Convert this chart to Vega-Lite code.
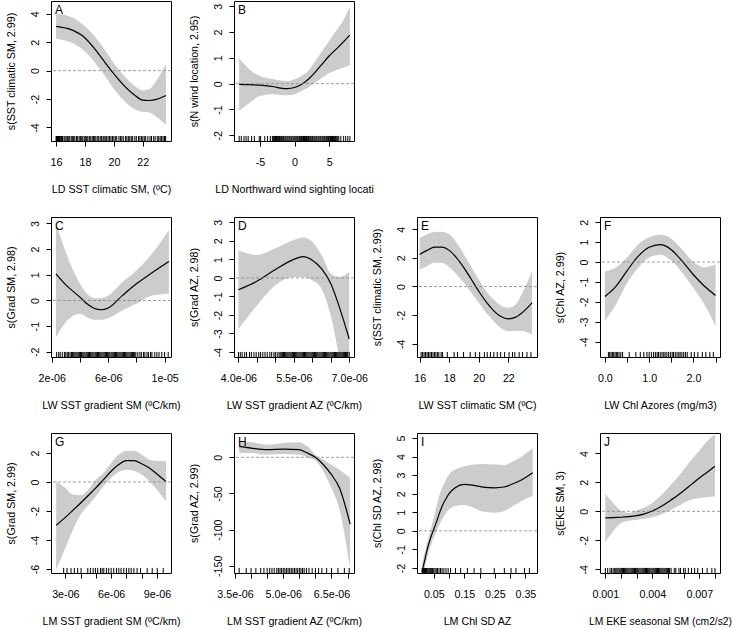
{
"$schema": "https://vega.github.io/schema/vega-lite/v6.json",
"padding": {"left": 4, "top": 0, "right": 0, "bottom": 0},
"background": "white",
"config": {
  "view": {"stroke": "black", "strokeWidth": 1},
  "font": "Liberation Sans",
  "axis": {"domain": false, "grid": false, "tickColor": "black", "tickSize": 5, "tickWidth": 1, "labelFont": "Liberation Sans", "labelFontSize": 10.7, "labelColor": "black", "titleFont": "Liberation Sans", "titleFontSize": 10.7, "titleFontWeight": "normal", "titleColor": "black", "labelOverlap": false, "labelFlush": false, "tickCount": 100},
  "axisY": {"labelAngle": 270, "labelAlign": "center", "labelBaseline": "bottom", "labelPadding": 5.5, "titlePadding": 13.5},
  "axisX": {"labelPadding": 11.5, "titlePadding": 17}
},
"datasets": {
  "A": [{"x":16,"fit":3.12,"lo":2.27,"hi":3.98},{"x":17.0,"fit":2.9,"lo":2.0,"hi":3.8},{"x":17.95,"fit":2.35,"lo":1.4,"hi":3.15},{"x":18.85,"fit":1.3,"lo":0.35,"hi":2.2},{"x":19.55,"fit":0.35,"lo":-0.6,"hi":1.2},{"x":20.0,"fit":-0.23,"lo":-1.3,"hi":0.5},{"x":20.7,"fit":-1.05,"lo":-2.1,"hi":-0.35},{"x":21.4,"fit":-1.7,"lo":-2.7,"hi":-1.05},{"x":22.0,"fit":-2.08,"lo":-2.9,"hi":-1.4},{"x":22.45,"fit":-2.1,"lo":-2.95,"hi":-1.3},{"x":23.0,"fit":-2.0,"lo":-3.3,"hi":-0.6},{"x":23.6,"fit":-1.75,"lo":-3.8,"hi":0.45}],
  "B": [{"x":-8,"fit":-0.03,"lo":-1.06,"hi":0.97},{"x":-6.5,"fit":-0.04,"lo":-0.74,"hi":0.55},{"x":-5,"fit":-0.06,"lo":-0.48,"hi":0.3},{"x":-3,"fit":-0.12,"lo":-0.41,"hi":0.17},{"x":-2,"fit":-0.17,"lo":-0.44,"hi":0.12},{"x":-1,"fit":-0.19,"lo":-0.45,"hi":0.1},{"x":0,"fit":-0.15,"lo":-0.41,"hi":0.17},{"x":1,"fit":-0.03,"lo":-0.28,"hi":0.3},{"x":2,"fit":0.17,"lo":-0.15,"hi":0.5},{"x":3,"fit":0.45,"lo":0.04,"hi":0.88},{"x":4,"fit":0.76,"lo":0.23,"hi":1.26},{"x":5,"fit":1.07,"lo":0.4,"hi":1.65},{"x":6,"fit":1.33,"lo":0.52,"hi":2.04},{"x":7,"fit":1.6,"lo":0.62,"hi":2.43},{"x":8,"fit":1.88,"lo":0.71,"hi":3.0}],
  "C": [{"x":2.3e-6,"fit":1.04,"lo":-1.43,"hi":3.05},{"x":3e-6,"fit":0.61,"lo":-0.84,"hi":1.88},{"x":4e-6,"fit":0.13,"lo":-0.52,"hi":0.65},{"x":4.5e-6,"fit":-0.13,"lo":-0.65,"hi":0.26},{"x":5e-6,"fit":-0.3,"lo":-0.75,"hi":0.09},{"x":5.5e-6,"fit":-0.36,"lo":-0.75,"hi":0.09},{"x":6e-6,"fit":-0.29,"lo":-0.69,"hi":0.19},{"x":7e-6,"fit":0.19,"lo":-0.39,"hi":0.71},{"x":8e-6,"fit":0.65,"lo":-0.13,"hi":1.17},{"x":9e-6,"fit":1.04,"lo":0.17,"hi":1.75},{"x":1.03e-5,"fit":1.52,"lo":0.26,"hi":2.73}],
  "D": [{"x":4.0e-6,"fit":-0.64,"lo":-2.76,"hi":1.5},{"x":4.5e-6,"fit":-0.18,"lo":-1.49,"hi":1.24},{"x":5.0e-6,"fit":0.45,"lo":-0.4,"hi":1.6},{"x":5.5e-6,"fit":1.0,"lo":0.05,"hi":2.05},{"x":5.75e-6,"fit":1.15,"lo":0.05,"hi":2.18},{"x":6.0e-6,"fit":0.96,"lo":-0.13,"hi":1.96},{"x":6.25e-6,"fit":0.5,"lo":-0.58,"hi":1.24},{"x":6.5e-6,"fit":-0.3,"lo":-2.04,"hi":0.24},{"x":6.75e-6,"fit":-1.67,"lo":-4.5,"hi":0.05},{"x":7.0e-6,"fit":-3.3,"lo":-7.5,"hi":0.33}],
  "E": [{"x":16,"fit":2.24,"lo":1.19,"hi":3.36},{"x":16.5,"fit":2.52,"lo":1.42,"hi":3.64},{"x":17,"fit":2.75,"lo":1.65,"hi":3.8},{"x":17.5,"fit":2.75,"lo":1.65,"hi":3.82},{"x":18,"fit":2.52,"lo":1.35,"hi":3.64},{"x":18.5,"fit":2.0,"lo":0.84,"hi":3.05},{"x":19,"fit":1.3,"lo":0.26,"hi":2.24},{"x":19.5,"fit":0.49,"lo":-0.44,"hi":1.35},{"x":20,"fit":-0.33,"lo":-1.14,"hi":0.49},{"x":20.5,"fit":-1.07,"lo":-1.84,"hi":-0.33},{"x":21,"fit":-1.68,"lo":-2.42,"hi":-0.91},{"x":21.5,"fit":-2.1,"lo":-2.89,"hi":-1.33},{"x":22,"fit":-2.26,"lo":-3.12,"hi":-1.49},{"x":22.5,"fit":-2.14,"lo":-3.08,"hi":-1.26},{"x":23,"fit":-1.77,"lo":-3.12,"hi":-0.33},{"x":23.6,"fit":-1.14,"lo":-3.36,"hi":1.07}],
  "F": [{"x":0,"fit":-1.73,"lo":-2.95,"hi":-0.47},{"x":0.25,"fit":-1.22,"lo":-2.14,"hi":-0.27},{"x":0.5,"fit":-0.44,"lo":-1.06,"hi":0.23},{"x":0.75,"fit":0.28,"lo":-0.3,"hi":0.87},{"x":1.0,"fit":0.74,"lo":0.23,"hi":1.24},{"x":1.25,"fit":0.87,"lo":0.37,"hi":1.37},{"x":1.5,"fit":0.62,"lo":0.07,"hi":1.17},{"x":1.75,"fit":0.03,"lo":-0.55,"hi":0.62},{"x":2.0,"fit":-0.64,"lo":-1.31,"hi":0.0},{"x":2.25,"fit":-1.22,"lo":-2.14,"hi":-0.27},{"x":2.5,"fit":-1.68,"lo":-3.23,"hi":-0.13}],
  "G": [{"x":2.4e-6,"fit":-2.99,"lo":-6.05,"hi":0.05},{"x":3e-6,"fit":-2.44,"lo":-4.55,"hi":-0.41},{"x":3.5e-6,"fit":-1.95,"lo":-3.3,"hi":-0.87},{"x":4e-6,"fit":-1.45,"lo":-2.25,"hi":-0.92},{"x":4.5e-6,"fit":-0.93,"lo":-1.61,"hi":-0.53},{"x":5e-6,"fit":-0.41,"lo":-0.99,"hi":0.16},{"x":5.5e-6,"fit":0.16,"lo":-0.3,"hi":0.62},{"x":6e-6,"fit":0.74,"lo":0.28,"hi":1.31},{"x":6.5e-6,"fit":1.2,"lo":0.69,"hi":1.89},{"x":7e-6,"fit":1.47,"lo":0.85,"hi":2.16},{"x":7.5e-6,"fit":1.47,"lo":0.78,"hi":2.16},{"x":8e-6,"fit":1.26,"lo":0.51,"hi":1.89},{"x":8.5e-6,"fit":0.97,"lo":0.05,"hi":1.54},{"x":9e-6,"fit":0.55,"lo":-0.53,"hi":1.47},{"x":9.6e-6,"fit":0.02,"lo":-1.33,"hi":1.43}],
  "H": [{"x":3.63e-6,"fit":15.2,"lo":6,"hi":22},{"x":4e-6,"fit":12.9,"lo":6,"hi":21},{"x":4.5e-6,"fit":10.6,"lo":3.7,"hi":17.5},{"x":5e-6,"fit":11.5,"lo":4.6,"hi":19.8},{"x":5.5e-6,"fit":10.6,"lo":3.7,"hi":21},{"x":5.75e-6,"fit":6.0,"lo":0,"hi":15.2},{"x":6e-6,"fit":0,"lo":-4.6,"hi":3.7},{"x":6.25e-6,"fit":-10.2,"lo":-19.4,"hi":-3.2},{"x":6.5e-6,"fit":-24,"lo":-42.5,"hi":-10.2},{"x":6.75e-6,"fit":-42.5,"lo":-72.5,"hi":-17},{"x":7.08e-6,"fit":-92.3,"lo":-153,"hi":-28.6}],
  "I": [{"x":0.0115,"fit":-2.2,"lo":-2.6,"hi":-1.79},{"x":0.02,"fit":-1.6,"lo":-2.05,"hi":-1.16},{"x":0.03,"fit":-0.9,"lo":-1.34,"hi":-0.54},{"x":0.04,"fit":-0.36,"lo":-0.8,"hi":0.09},{"x":0.05,"fit":0.09,"lo":-0.36,"hi":0.71},{"x":0.06,"fit":0.54,"lo":0.0,"hi":1.39},{"x":0.07,"fit":1.02,"lo":0.39,"hi":2.0},{"x":0.08,"fit":1.43,"lo":0.71,"hi":2.41},{"x":0.09,"fit":1.73,"lo":0.98,"hi":2.77},{"x":0.10,"fit":2.0,"lo":1.16,"hi":3.04},{"x":0.12,"fit":2.32,"lo":1.34,"hi":3.3},{"x":0.15,"fit":2.5,"lo":1.39,"hi":3.48},{"x":0.18,"fit":2.45,"lo":1.25,"hi":3.57},{"x":0.21,"fit":2.36,"lo":1.04,"hi":3.6},{"x":0.25,"fit":2.32,"lo":0.98,"hi":3.57},{"x":0.28,"fit":2.36,"lo":1.07,"hi":3.54},{"x":0.31,"fit":2.54,"lo":1.34,"hi":3.75},{"x":0.34,"fit":2.77,"lo":1.64,"hi":4.02},{"x":0.374,"fit":3.13,"lo":1.88,"hi":4.46}],
  "J": [{"x":0.001,"fit":-0.46,"lo":-2.12,"hi":1.2},{"x":0.0015,"fit":-0.43,"lo":-1.38,"hi":0.58},{"x":0.002,"fit":-0.41,"lo":-0.81,"hi":0.05},{"x":0.0025,"fit":-0.37,"lo":-0.65,"hi":-0.12},{"x":0.003,"fit":-0.3,"lo":-0.58,"hi":0.05},{"x":0.0035,"fit":-0.18,"lo":-0.51,"hi":0.28},{"x":0.004,"fit":0.02,"lo":-0.41,"hi":0.58},{"x":0.0045,"fit":0.3,"lo":-0.23,"hi":1.04},{"x":0.005,"fit":0.64,"lo":0.0,"hi":1.61},{"x":0.0055,"fit":1.0,"lo":0.28,"hi":2.19},{"x":0.006,"fit":1.42,"lo":0.58,"hi":2.88},{"x":0.0065,"fit":1.86,"lo":0.81,"hi":3.57},{"x":0.007,"fit":2.3,"lo":0.92,"hi":4.19},{"x":0.0075,"fit":2.7,"lo":0.97,"hi":4.84},{"x":0.008,"fit":3.11,"lo":1.04,"hi":5.3}],
  "A_rug": [{"r":16.0},{"r":16.03},{"r":16.06},{"r":16.1},{"r":16.13},{"r":16.17},{"r":16.2},{"r":16.24},{"r":16.28},{"r":16.33},{"r":16.38},{"r":16.45},{"r":16.55},{"r":16.62},{"r":16.7},{"r":16.8},{"r":16.88},{"r":16.95},{"r":17.05},{"r":17.15},{"r":17.22},{"r":17.3},{"r":17.42},{"r":17.5},{"r":17.6},{"r":17.7},{"r":17.78},{"r":17.85},{"r":17.95},{"r":18.05},{"r":18.12},{"r":18.2},{"r":18.3},{"r":18.4},{"r":18.5},{"r":18.58},{"r":18.65},{"r":18.75},{"r":18.85},{"r":18.95},{"r":19.05},{"r":19.15},{"r":19.25},{"r":19.32},{"r":19.4},{"r":19.5},{"r":19.6},{"r":19.7},{"r":19.8},{"r":19.9},{"r":20.0},{"r":20.1},{"r":20.2},{"r":20.35},{"r":20.45},{"r":20.55},{"r":20.65},{"r":20.8},{"r":20.9},{"r":21.0},{"r":21.1},{"r":21.2},{"r":21.3},{"r":21.45},{"r":21.55},{"r":21.7},{"r":21.8},{"r":21.9},{"r":22.0},{"r":22.1},{"r":22.2},{"r":22.35},{"r":22.5},{"r":22.6},{"r":22.75},{"r":22.85},{"r":23.0},{"r":23.1},{"r":23.2},{"r":23.3},{"r":23.4},{"r":23.5},{"r":23.58}],
  "B_rug": [{"r":-8.0},{"r":-7.7},{"r":-7.3},{"r":-7.0},{"r":-6.7},{"r":-6.2},{"r":-5.8},{"r":-5.1},{"r":-4.9},{"r":-4.3},{"r":-3.9},{"r":-3.5},{"r":-3.2},{"r":-3.06},{"r":-2.9},{"r":-2.76},{"r":-2.6},{"r":-2.47},{"r":-2.3},{"r":-2.16},{"r":-2.0},{"r":-1.86},{"r":-1.7},{"r":-1.57},{"r":-1.4},{"r":-1.26},{"r":-1.1},{"r":-0.96},{"r":-0.8},{"r":-0.66},{"r":-0.5},{"r":-0.37},{"r":-0.2},{"r":-0.06},{"r":0.1},{"r":0.24},{"r":0.4},{"r":0.53},{"r":0.7},{"r":0.84},{"r":1.0},{"r":1.13},{"r":1.3},{"r":1.44},{"r":1.6},{"r":1.74},{"r":1.9},{"r":2.03},{"r":2.2},{"r":2.34},{"r":2.5},{"r":2.63},{"r":2.8},{"r":2.94},{"r":3.1},{"r":3.23},{"r":3.4},{"r":3.54},{"r":3.7},{"r":3.83},{"r":4.0},{"r":4.14},{"r":4.3},{"r":4.43},{"r":4.6},{"r":4.74},{"r":4.9},{"r":5.03},{"r":5.2},{"r":5.34},{"r":5.5},{"r":5.63},{"r":5.8},{"r":5.94},{"r":6.1},{"r":6.25},{"r":6.4},{"r":6.7},{"r":7.1},{"r":7.4},{"r":7.7},{"r":8.0}],
  "C_rug": [{"r":2.35e-6},{"r":2.5e-6},{"r":2.6e-6},{"r":2.75e-6},{"r":2.9e-6},{"r":3.0e-6},{"r":3.1e-6},{"r":3.2e-6},{"r":3.3e-6},{"r":3.4e-6},{"r":3.48e-6},{"r":3.56e-6},{"r":3.64e-6},{"r":3.72e-6},{"r":3.8e-6},{"r":3.88e-6},{"r":3.96e-6},{"r":4.04e-6},{"r":4.12e-6},{"r":4.2e-6},{"r":4.28e-6},{"r":4.36e-6},{"r":4.44e-6},{"r":4.52e-6},{"r":4.6e-6},{"r":4.68e-6},{"r":4.76e-6},{"r":4.84e-6},{"r":4.92e-6},{"r":5.0e-6},{"r":5.08e-6},{"r":5.16e-6},{"r":5.24e-6},{"r":5.32e-6},{"r":5.4e-6},{"r":5.48e-6},{"r":5.56e-6},{"r":5.64e-6},{"r":5.72e-6},{"r":5.8e-6},{"r":5.88e-6},{"r":5.96e-6},{"r":6.04e-6},{"r":6.12e-6},{"r":6.2e-6},{"r":6.28e-6},{"r":6.36e-6},{"r":6.44e-6},{"r":6.52e-6},{"r":6.6e-6},{"r":6.68e-6},{"r":6.76e-6},{"r":6.84e-6},{"r":6.92e-6},{"r":7.0e-6},{"r":7.08e-6},{"r":7.16e-6},{"r":7.24e-6},{"r":7.32e-6},{"r":7.4e-6},{"r":7.48e-6},{"r":7.56e-6},{"r":7.64e-6},{"r":7.72e-6},{"r":7.8e-6},{"r":7.88e-6},{"r":7.96e-6},{"r":8.1e-6},{"r":8.25e-6},{"r":8.35e-6},{"r":8.5e-6},{"r":8.6e-6},{"r":8.75e-6},{"r":8.85e-6},{"r":9.0e-6},{"r":9.1e-6},{"r":9.3e-6},{"r":9.45e-6},{"r":9.6e-6},{"r":9.8e-6},{"r":1.0e-5},{"r":1.025e-5}],
  "D_rug": [{"r":4.0e-6},{"r":4.05e-6},{"r":4.1e-6},{"r":4.17e-6},{"r":4.22e-6},{"r":4.3e-6},{"r":4.35e-6},{"r":4.42e-6},{"r":4.48e-6},{"r":4.55e-6},{"r":4.6e-6},{"r":4.66e-6},{"r":4.72e-6},{"r":4.78e-6},{"r":4.85e-6},{"r":4.9e-6},{"r":4.96e-6},{"r":5.0e-6},{"r":5.05e-6},{"r":5.1e-6},{"r":5.13e-6},{"r":5.16e-6},{"r":5.19e-6},{"r":5.22e-6},{"r":5.25e-6},{"r":5.28e-6},{"r":5.31e-6},{"r":5.34e-6},{"r":5.37e-6},{"r":5.4e-6},{"r":5.43e-6},{"r":5.46e-6},{"r":5.49e-6},{"r":5.52e-6},{"r":5.55e-6},{"r":5.58e-6},{"r":5.61e-6},{"r":5.64e-6},{"r":5.67e-6},{"r":5.7e-6},{"r":5.73e-6},{"r":5.76e-6},{"r":5.79e-6},{"r":5.82e-6},{"r":5.85e-6},{"r":5.88e-6},{"r":5.91e-6},{"r":5.94e-6},{"r":5.97e-6},{"r":6.0e-6},{"r":6.03e-6},{"r":6.06e-6},{"r":6.09e-6},{"r":6.12e-6},{"r":6.15e-6},{"r":6.18e-6},{"r":6.21e-6},{"r":6.24e-6},{"r":6.27e-6},{"r":6.3e-6},{"r":6.33e-6},{"r":6.36e-6},{"r":6.39e-6},{"r":6.42e-6},{"r":6.45e-6},{"r":6.48e-6},{"r":6.51e-6},{"r":6.54e-6},{"r":6.57e-6},{"r":6.6e-6},{"r":6.63e-6},{"r":6.66e-6},{"r":6.69e-6},{"r":6.72e-6},{"r":6.75e-6},{"r":6.78e-6},{"r":6.81e-6},{"r":6.84e-6},{"r":6.87e-6},{"r":6.9e-6},{"r":6.93e-6},{"r":6.96e-6},{"r":7.0e-6}],
  "E_rug": [{"r":16.1},{"r":16.2},{"r":16.3},{"r":16.4},{"r":16.5},{"r":16.6},{"r":16.7},{"r":16.8},{"r":16.9},{"r":17.0},{"r":17.1},{"r":17.2},{"r":17.3},{"r":17.45},{"r":17.55},{"r":17.87},{"r":18.33},{"r":18.56},{"r":18.97},{"r":19.42},{"r":19.77},{"r":20.06},{"r":20.38},{"r":20.57},{"r":20.79},{"r":21.02},{"r":21.25},{"r":21.48},{"r":21.75},{"r":22.05},{"r":22.28},{"r":22.44},{"r":22.73},{"r":22.96},{"r":23.26},{"r":23.53}],
  "F_rug": [{"r":0.08},{"r":0.11},{"r":0.14},{"r":0.17},{"r":0.2},{"r":0.23},{"r":0.26},{"r":0.29},{"r":0.32},{"r":0.36},{"r":0.4},{"r":0.55},{"r":0.7},{"r":0.8},{"r":0.88},{"r":0.95},{"r":1.0},{"r":1.05},{"r":1.1},{"r":1.14},{"r":1.18},{"r":1.21},{"r":1.25},{"r":1.29},{"r":1.33},{"r":1.36},{"r":1.4},{"r":1.44},{"r":1.48},{"r":1.52},{"r":1.55},{"r":1.59},{"r":1.63},{"r":1.67},{"r":1.7},{"r":1.74},{"r":1.78},{"r":1.82},{"r":1.86},{"r":1.95},{"r":2.02},{"r":2.1},{"r":2.2},{"r":2.28},{"r":2.37},{"r":2.45}],
  "G_rug": [{"r":2.89e-6},{"r":3.11e-6},{"r":3.37e-6},{"r":3.59e-6},{"r":3.81e-6},{"r":4.03e-6},{"r":4.47e-6},{"r":4.64e-6},{"r":4.82e-6},{"r":4.97e-6},{"r":5.12e-6},{"r":5.3e-6},{"r":5.41e-6},{"r":5.52e-6},{"r":5.69e-6},{"r":5.84e-6},{"r":6.0e-6},{"r":6.17e-6},{"r":6.35e-6},{"r":6.5e-6},{"r":6.65e-6},{"r":6.83e-6},{"r":7.0e-6},{"r":7.16e-6},{"r":7.31e-6},{"r":7.49e-6},{"r":7.7e-6},{"r":7.92e-6},{"r":8.36e-6},{"r":8.69e-6},{"r":9.02e-6},{"r":9.41e-6}],
  "H_rug": [{"r":3.63e-6},{"r":3.85e-6},{"r":4.0e-6},{"r":4.15e-6},{"r":4.3e-6},{"r":4.4e-6},{"r":4.5e-6},{"r":4.58e-6},{"r":4.65e-6},{"r":4.72e-6},{"r":4.8e-6},{"r":4.85e-6},{"r":4.9e-6},{"r":4.95e-6},{"r":5.0e-6},{"r":5.05e-6},{"r":5.1e-6},{"r":5.15e-6},{"r":5.2e-6},{"r":5.25e-6},{"r":5.3e-6},{"r":5.35e-6},{"r":5.4e-6},{"r":5.45e-6},{"r":5.5e-6},{"r":5.55e-6},{"r":5.6e-6},{"r":5.65e-6},{"r":5.72e-6},{"r":5.8e-6},{"r":5.9e-6},{"r":6.0e-6},{"r":6.1e-6},{"r":6.2e-6},{"r":6.35e-6},{"r":6.5e-6},{"r":6.7e-6},{"r":6.9e-6},{"r":7.05e-6}],
  "I_rug": [{"r":0.012},{"r":0.014},{"r":0.016},{"r":0.018},{"r":0.02},{"r":0.022},{"r":0.024},{"r":0.026},{"r":0.028},{"r":0.031},{"r":0.034},{"r":0.037},{"r":0.04},{"r":0.043},{"r":0.046},{"r":0.05},{"r":0.054},{"r":0.058},{"r":0.062},{"r":0.067},{"r":0.072},{"r":0.077},{"r":0.083},{"r":0.09},{"r":0.097},{"r":0.105},{"r":0.121},{"r":0.138},{"r":0.16},{"r":0.182},{"r":0.204},{"r":0.248},{"r":0.281},{"r":0.303},{"r":0.319},{"r":0.347},{"r":0.363}],
  "J_rug": [{"r":0.001},{"r":0.00115},{"r":0.0013},{"r":0.0014},{"r":0.0015},{"r":0.0016},{"r":0.00167},{"r":0.00174},{"r":0.00181},{"r":0.00188},{"r":0.00195},{"r":0.00202},{"r":0.00209},{"r":0.00216},{"r":0.00223},{"r":0.0023},{"r":0.00237},{"r":0.00244},{"r":0.00251},{"r":0.00258},{"r":0.00265},{"r":0.00272},{"r":0.00279},{"r":0.00286},{"r":0.00293},{"r":0.003},{"r":0.00307},{"r":0.00314},{"r":0.00321},{"r":0.00328},{"r":0.00335},{"r":0.00342},{"r":0.00349},{"r":0.00356},{"r":0.00363},{"r":0.0037},{"r":0.00377},{"r":0.00384},{"r":0.00391},{"r":0.00398},{"r":0.00405},{"r":0.00412},{"r":0.00419},{"r":0.00426},{"r":0.00433},{"r":0.0044},{"r":0.00447},{"r":0.00454},{"r":0.00461},{"r":0.00468},{"r":0.00475},{"r":0.00482},{"r":0.00489},{"r":0.00496},{"r":0.00503},{"r":0.0051},{"r":0.0052},{"r":0.0054},{"r":0.0055},{"r":0.0057},{"r":0.0058},{"r":0.006},{"r":0.0061},{"r":0.0063},{"r":0.0065},{"r":0.0067},{"r":0.0069},{"r":0.0072},{"r":0.0075},{"r":0.0078},{"r":0.008}]
},
"bounds": "flush",
"columns": 4,
"spacing": {"row": 76, "column": 63},
"concat": [
  {"width": 120, "height": 140, "layer": [
   {"data": {"name": "A"}, "mark": {"type": "area", "fill": "#cccccc", "interpolate": "monotone", "clip": true}, "encoding": {"x": {"field": "x", "type": "quantitative", "scale": {"domain": [15.65, 23.95], "nice": false, "zero": false}, "axis": {"title": "LD SST climatic SM, (ºC)", "values": [16, 18, 20, 22], "tickCount": 100, "labelOverlap": false, "labelExpr": "'' + datum.value"}}, "y": {"field": "lo", "type": "quantitative", "scale": {"domain": [-4.95, 4.9], "nice": false, "zero": false}, "axis": {"title": "s(SST climatic SM, 2.99)", "values": [-4, -2, 0, 2, 4], "tickCount": 100, "labelOverlap": false, "labelExpr": "'' + datum.value"}}, "y2": {"field": "hi"}}},
   {"data": {"name": "A"}, "mark": {"type": "line", "color": "black", "strokeWidth": 1.2, "interpolate": "monotone", "clip": true}, "encoding": {"x": {"field": "x", "type": "quantitative"}, "y": {"field": "fit", "type": "quantitative"}}},
   {"data": {"values": [{}]}, "mark": {"type": "rule", "stroke": "#888888", "strokeDash": [3, 2], "strokeWidth": 0.8}, "encoding": {"y": {"datum": 0}}},
   {"data": {"name": "A_rug"}, "mark": {"type": "rule", "color": "black", "strokeWidth": 1}, "encoding": {"x": {"field": "r", "type": "quantitative"}, "y": {"datum": -4.95}, "y2": {"datum": -4.6}}},
   {"data": {"values": [{"panel": "A"}]}, "mark": {"type": "text", "align": "left", "baseline": "top", "dx": 4, "dy": 4, "fontSize": 12, "color": "black"}, "encoding": {"x": {"datum": 15.65}, "y": {"datum": 4.9}, "text": {"field": "panel"}}}
  ]},
  {"width": 120, "height": 140, "layer": [
   {"data": {"name": "B"}, "mark": {"type": "area", "fill": "#cccccc", "interpolate": "monotone", "clip": true}, "encoding": {"x": {"field": "x", "type": "quantitative", "scale": {"domain": [-8.75, 8.6], "nice": false, "zero": false}, "axis": {"title": "LD Northward wind sighting locati", "values": [-5, 0, 5], "tickCount": 100, "labelOverlap": false, "labelExpr": "'' + datum.value"}}, "y": {"field": "lo", "type": "quantitative", "scale": {"domain": [-2.22, 3.2], "nice": false, "zero": false}, "axis": {"title": "s(N wind location, 2.95)", "values": [-2, -1, 0, 1, 2, 3], "tickCount": 100, "labelOverlap": false, "labelExpr": "'' + datum.value"}}, "y2": {"field": "hi"}}},
   {"data": {"name": "B"}, "mark": {"type": "line", "color": "black", "strokeWidth": 1.2, "interpolate": "monotone", "clip": true}, "encoding": {"x": {"field": "x", "type": "quantitative"}, "y": {"field": "fit", "type": "quantitative"}}},
   {"data": {"values": [{}]}, "mark": {"type": "rule", "stroke": "#888888", "strokeDash": [3, 2], "strokeWidth": 0.8}, "encoding": {"y": {"datum": 0}}},
   {"data": {"name": "B_rug"}, "mark": {"type": "rule", "color": "black", "strokeWidth": 1}, "encoding": {"x": {"field": "r", "type": "quantitative"}, "y": {"datum": -2.22}, "y2": {"datum": -2.025}}},
   {"data": {"values": [{"panel": "B"}]}, "mark": {"type": "text", "align": "left", "baseline": "top", "dx": 4, "dy": 4, "fontSize": 12, "color": "black"}, "encoding": {"x": {"datum": -8.75}, "y": {"datum": 3.2}, "text": {"field": "panel"}}}
  ]},
  {"width": 120, "height": 140, "view": {"stroke": null}, "data": {"values": []}, "mark": {"type": "point"}, "encoding": {}},
  {"width": 120, "height": 140, "view": {"stroke": null}, "data": {"values": []}, "mark": {"type": "point"}, "encoding": {}},
  {"width": 120, "height": 140, "layer": [
   {"data": {"name": "C"}, "mark": {"type": "area", "fill": "#cccccc", "interpolate": "monotone", "clip": true}, "encoding": {"x": {"field": "x", "type": "quantitative", "scale": {"domain": [1.95e-6, 1.045e-5], "nice": false, "zero": false}, "axis": {"title": "LW SST gradient SM (ºC/km)", "values": [2e-6, 4e-6, 6e-6, 8e-6, 1e-5], "tickCount": 100, "labelOverlap": false, "labelExpr": "indexof([2, 6, 10], round(datum.value * 1e6)) >= 0 ? (round(datum.value * 1e6) == 10 ? '1e-05' : round(datum.value * 1e6) + 'e-06') : ''"}}, "y": {"field": "lo", "type": "quantitative", "scale": {"domain": [-2.2, 3.25], "nice": false, "zero": false}, "axis": {"title": "s(Grad SM, 2.98)", "values": [-2, -1, 0, 1, 2, 3], "tickCount": 100, "labelOverlap": false, "labelExpr": "'' + datum.value"}}, "y2": {"field": "hi"}}},
   {"data": {"name": "C"}, "mark": {"type": "line", "color": "black", "strokeWidth": 1.2, "interpolate": "monotone", "clip": true}, "encoding": {"x": {"field": "x", "type": "quantitative"}, "y": {"field": "fit", "type": "quantitative"}}},
   {"data": {"values": [{}]}, "mark": {"type": "rule", "stroke": "#888888", "strokeDash": [3, 2], "strokeWidth": 0.8}, "encoding": {"y": {"datum": 0}}},
   {"data": {"name": "C_rug"}, "mark": {"type": "rule", "color": "black", "strokeWidth": 1}, "encoding": {"x": {"field": "r", "type": "quantitative"}, "y": {"datum": -2.2}, "y2": {"datum": -2.004}}},
   {"data": {"values": [{"panel": "C"}]}, "mark": {"type": "text", "align": "left", "baseline": "top", "dx": 4, "dy": 4, "fontSize": 12, "color": "black"}, "encoding": {"x": {"datum": 1.95e-6}, "y": {"datum": 3.25}, "text": {"field": "panel"}}}
  ]},
  {"width": 120, "height": 140, "layer": [
   {"data": {"name": "D"}, "mark": {"type": "area", "fill": "#cccccc", "interpolate": "monotone", "clip": true}, "encoding": {"x": {"field": "x", "type": "quantitative", "scale": {"domain": [3.88e-6, 7.13e-6], "nice": false, "zero": false}, "axis": {"title": "LW SST gradient AZ (ºC/km)", "values": [4e-6, 4.5e-6, 5e-6, 5.5e-6, 6e-6, 6.5e-6, 7e-6], "tickCount": 100, "labelOverlap": false, "labelExpr": "indexof(['4.0', '5.5', '7.0'], format(datum.value * 1e6, '.1f')) >= 0 ? format(datum.value * 1e6, '.1f') + 'e-06' : ''"}}, "y": {"field": "lo", "type": "quantitative", "scale": {"domain": [-4.27, 3.29], "nice": false, "zero": false}, "axis": {"title": "s(Grad AZ, 2.98)", "values": [-4, -3, -2, -1, 0, 1, 2, 3], "tickCount": 100, "labelOverlap": false, "labelExpr": "'' + datum.value"}}, "y2": {"field": "hi"}}},
   {"data": {"name": "D"}, "mark": {"type": "line", "color": "black", "strokeWidth": 1.2, "interpolate": "monotone", "clip": true}, "encoding": {"x": {"field": "x", "type": "quantitative"}, "y": {"field": "fit", "type": "quantitative"}}},
   {"data": {"values": [{}]}, "mark": {"type": "rule", "stroke": "#888888", "strokeDash": [3, 2], "strokeWidth": 0.8}, "encoding": {"y": {"datum": 0}}},
   {"data": {"name": "D_rug"}, "mark": {"type": "rule", "color": "black", "strokeWidth": 1}, "encoding": {"x": {"field": "r", "type": "quantitative"}, "y": {"datum": -4.27}, "y2": {"datum": -3.998}}},
   {"data": {"values": [{"panel": "D"}]}, "mark": {"type": "text", "align": "left", "baseline": "top", "dx": 4, "dy": 4, "fontSize": 12, "color": "black"}, "encoding": {"x": {"datum": 3.88e-6}, "y": {"datum": 3.29}, "text": {"field": "panel"}}}
  ]},
  {"width": 120, "height": 140, "layer": [
   {"data": {"name": "E"}, "mark": {"type": "area", "fill": "#cccccc", "interpolate": "monotone", "clip": true}, "encoding": {"x": {"field": "x", "type": "quantitative", "scale": {"domain": [15.82, 23.94], "nice": false, "zero": false}, "axis": {"title": "LW SST climatic SM (ºC)", "values": [16, 18, 20, 22], "tickCount": 100, "labelOverlap": false, "labelExpr": "'' + datum.value"}}, "y": {"field": "lo", "type": "quantitative", "scale": {"domain": [-4.92, 4.85], "nice": false, "zero": false}, "axis": {"title": "s(SST climatic SM, 2.99)", "values": [-4, -2, 0, 2, 4], "tickCount": 100, "labelOverlap": false, "labelExpr": "'' + datum.value"}}, "y2": {"field": "hi"}}},
   {"data": {"name": "E"}, "mark": {"type": "line", "color": "black", "strokeWidth": 1.2, "interpolate": "monotone", "clip": true}, "encoding": {"x": {"field": "x", "type": "quantitative"}, "y": {"field": "fit", "type": "quantitative"}}},
   {"data": {"values": [{}]}, "mark": {"type": "rule", "stroke": "#888888", "strokeDash": [3, 2], "strokeWidth": 0.8}, "encoding": {"y": {"datum": 0}}},
   {"data": {"name": "E_rug"}, "mark": {"type": "rule", "color": "black", "strokeWidth": 1}, "encoding": {"x": {"field": "r", "type": "quantitative"}, "y": {"datum": -4.92}, "y2": {"datum": -4.57}}},
   {"data": {"values": [{"panel": "E"}]}, "mark": {"type": "text", "align": "left", "baseline": "top", "dx": 4, "dy": 4, "fontSize": 12, "color": "black"}, "encoding": {"x": {"datum": 15.82}, "y": {"datum": 4.85}, "text": {"field": "panel"}}}
  ]},
  {"width": 120, "height": 140, "layer": [
   {"data": {"name": "F"}, "mark": {"type": "area", "fill": "#cccccc", "interpolate": "monotone", "clip": true}, "encoding": {"x": {"field": "x", "type": "quantitative", "scale": {"domain": [-0.11, 2.6], "nice": false, "zero": false}, "axis": {"title": "LW Chl Azores (mg/m3)", "values": [0, 0.5, 1, 1.5, 2, 2.5], "tickCount": 100, "labelOverlap": false, "labelExpr": "datum.value % 1 == 0 ? format(datum.value, '.1f') : ''"}}, "y": {"field": "lo", "type": "quantitative", "scale": {"domain": [-4.77, 2.26], "nice": false, "zero": false}, "axis": {"title": "s(Chl AZ, 2.99)", "values": [-4, -3, -2, -1, 0, 1, 2], "tickCount": 100, "labelOverlap": false, "labelExpr": "'' + datum.value"}}, "y2": {"field": "hi"}}},
   {"data": {"name": "F"}, "mark": {"type": "line", "color": "black", "strokeWidth": 1.2, "interpolate": "monotone", "clip": true}, "encoding": {"x": {"field": "x", "type": "quantitative"}, "y": {"field": "fit", "type": "quantitative"}}},
   {"data": {"values": [{}]}, "mark": {"type": "rule", "stroke": "#888888", "strokeDash": [3, 2], "strokeWidth": 0.8}, "encoding": {"y": {"datum": 0}}},
   {"data": {"name": "F_rug"}, "mark": {"type": "rule", "color": "black", "strokeWidth": 1}, "encoding": {"x": {"field": "r", "type": "quantitative"}, "y": {"datum": -4.77}, "y2": {"datum": -4.517}}},
   {"data": {"values": [{"panel": "F"}]}, "mark": {"type": "text", "align": "left", "baseline": "top", "dx": 4, "dy": 4, "fontSize": 12, "color": "black"}, "encoding": {"x": {"datum": -0.11}, "y": {"datum": 2.26}, "text": {"field": "panel"}}}
  ]},
  {"width": 120, "height": 140, "layer": [
   {"data": {"name": "G"}, "mark": {"type": "area", "fill": "#cccccc", "interpolate": "monotone", "clip": true}, "encoding": {"x": {"field": "x", "type": "quantitative", "scale": {"domain": [2.06e-6, 9.92e-6], "nice": false, "zero": false}, "axis": {"title": "LM SST gradient SM (ºC/km)", "values": [3e-6, 4e-6, 5e-6, 6e-6, 7e-6, 8e-6, 9e-6], "tickCount": 100, "labelOverlap": false, "labelExpr": "indexof([3, 6, 9], round(datum.value * 1e6)) >= 0 ? round(datum.value * 1e6) + 'e-06' : ''"}}, "y": {"field": "lo", "type": "quantitative", "scale": {"domain": [-6.28, 3.38], "nice": false, "zero": false}, "axis": {"title": "s(Grad SM, 2.99)", "values": [-6, -4, -2, 0, 2], "tickCount": 100, "labelOverlap": false, "labelExpr": "'' + datum.value"}}, "y2": {"field": "hi"}}},
   {"data": {"name": "G"}, "mark": {"type": "line", "color": "black", "strokeWidth": 1.2, "interpolate": "monotone", "clip": true}, "encoding": {"x": {"field": "x", "type": "quantitative"}, "y": {"field": "fit", "type": "quantitative"}}},
   {"data": {"values": [{}]}, "mark": {"type": "rule", "stroke": "#888888", "strokeDash": [3, 2], "strokeWidth": 0.8}, "encoding": {"y": {"datum": 0}}},
   {"data": {"name": "G_rug"}, "mark": {"type": "rule", "color": "black", "strokeWidth": 1}, "encoding": {"x": {"field": "r", "type": "quantitative"}, "y": {"datum": -6.28}, "y2": {"datum": -5.93}}},
   {"data": {"values": [{"panel": "G"}]}, "mark": {"type": "text", "align": "left", "baseline": "top", "dx": 4, "dy": 4, "fontSize": 12, "color": "black"}, "encoding": {"x": {"datum": 2.06e-6}, "y": {"datum": 3.38}, "text": {"field": "panel"}}}
  ]},
  {"width": 120, "height": 140, "layer": [
   {"data": {"name": "H"}, "mark": {"type": "area", "fill": "#cccccc", "interpolate": "monotone", "clip": true}, "encoding": {"x": {"field": "x", "type": "quantitative", "scale": {"domain": [3.47e-6, 7.2e-6], "nice": false, "zero": false}, "axis": {"title": "LM SST gradient AZ (ºC/km)", "values": [3.5e-6, 4e-6, 4.5e-6, 5e-6, 5.5e-6, 6e-6, 6.5e-6, 7e-6], "tickCount": 100, "labelOverlap": false, "labelExpr": "indexof(['3.5', '5.0', '6.5'], format(datum.value * 1e6, '.1f')) >= 0 ? format(datum.value * 1e6, '.1f') + 'e-06' : ''"}}, "y": {"field": "lo", "type": "quantitative", "scale": {"domain": [-160, 33.7], "nice": false, "zero": false}, "axis": {"title": "s(Grad AZ, 2.99)", "values": [-150, -100, -50, 0], "tickCount": 100, "labelOverlap": false, "labelExpr": "'' + datum.value"}}, "y2": {"field": "hi"}}},
   {"data": {"name": "H"}, "mark": {"type": "line", "color": "black", "strokeWidth": 1.2, "interpolate": "monotone", "clip": true}, "encoding": {"x": {"field": "x", "type": "quantitative"}, "y": {"field": "fit", "type": "quantitative"}}},
   {"data": {"values": [{}]}, "mark": {"type": "rule", "stroke": "#888888", "strokeDash": [3, 2], "strokeWidth": 0.8}, "encoding": {"y": {"datum": 0}}},
   {"data": {"name": "H_rug"}, "mark": {"type": "rule", "color": "black", "strokeWidth": 1}, "encoding": {"x": {"field": "r", "type": "quantitative"}, "y": {"datum": -160}, "y2": {"datum": -153}}},
   {"data": {"values": [{"panel": "H"}]}, "mark": {"type": "text", "align": "left", "baseline": "top", "dx": 4, "dy": 4, "fontSize": 12, "color": "black"}, "encoding": {"x": {"datum": 3.47e-6}, "y": {"datum": 33.7}, "text": {"field": "panel"}}}
  ]},
  {"width": 120, "height": 140, "layer": [
   {"data": {"name": "I"}, "mark": {"type": "area", "fill": "#cccccc", "interpolate": "monotone", "clip": true}, "encoding": {"x": {"field": "x", "type": "quantitative", "scale": {"domain": [-0.005, 0.388], "nice": false, "zero": false}, "axis": {"title": "LM Chl SD AZ", "values": [0.05, 0.1, 0.15, 0.2, 0.25, 0.3, 0.35], "tickCount": 100, "labelOverlap": false, "labelExpr": "indexof(['0.05', '0.15', '0.25', '0.35'], format(datum.value, '.2f')) >= 0 ? format(datum.value, '.2f') : ''"}}, "y": {"field": "lo", "type": "quantitative", "scale": {"domain": [-2.27, 5.27], "nice": false, "zero": false}, "axis": {"title": "s(Chl SD AZ, 2.98)", "values": [-2, -1, 0, 1, 2, 3, 4, 5], "tickCount": 100, "labelOverlap": false, "labelExpr": "'' + datum.value"}}, "y2": {"field": "hi"}}},
   {"data": {"name": "I"}, "mark": {"type": "line", "color": "black", "strokeWidth": 1.2, "interpolate": "monotone", "clip": true}, "encoding": {"x": {"field": "x", "type": "quantitative"}, "y": {"field": "fit", "type": "quantitative"}}},
   {"data": {"values": [{}]}, "mark": {"type": "rule", "stroke": "#888888", "strokeDash": [3, 2], "strokeWidth": 0.8}, "encoding": {"y": {"datum": 0}}},
   {"data": {"name": "I_rug"}, "mark": {"type": "rule", "color": "black", "strokeWidth": 1}, "encoding": {"x": {"field": "r", "type": "quantitative"}, "y": {"datum": -2.27}, "y2": {"datum": -2.0}}},
   {"data": {"values": [{"panel": "I"}]}, "mark": {"type": "text", "align": "left", "baseline": "top", "dx": 4, "dy": 4, "fontSize": 12, "color": "black"}, "encoding": {"x": {"datum": -0.005}, "y": {"datum": 5.27}, "text": {"field": "panel"}}}
  ]},
  {"width": 120, "height": 140, "layer": [
   {"data": {"name": "J"}, "mark": {"type": "area", "fill": "#cccccc", "interpolate": "monotone", "clip": true}, "encoding": {"x": {"field": "x", "type": "quantitative", "scale": {"domain": [0.00066, 0.00832], "nice": false, "zero": false}, "axis": {"title": "LM EKE seasonal SM (cm2/s2)", "titleFontSize": 10.3, "values": [0.001, 0.002, 0.003, 0.004, 0.005, 0.006, 0.007, 0.008], "tickCount": 100, "labelOverlap": false, "labelExpr": "indexof(['0.001', '0.004', '0.007'], format(datum.value, '.3f')) >= 0 ? format(datum.value, '.3f') : ''"}}, "y": {"field": "lo", "type": "quantitative", "scale": {"domain": [-4.26, 5.41], "nice": false, "zero": false}, "axis": {"title": "s(EKE SM, 3)", "values": [-4, -2, 0, 2, 4], "tickCount": 100, "labelOverlap": false, "labelExpr": "'' + datum.value"}}, "y2": {"field": "hi"}}},
   {"data": {"name": "J"}, "mark": {"type": "line", "color": "black", "strokeWidth": 1.2, "interpolate": "monotone", "clip": true}, "encoding": {"x": {"field": "x", "type": "quantitative"}, "y": {"field": "fit", "type": "quantitative"}}},
   {"data": {"values": [{}]}, "mark": {"type": "rule", "stroke": "#888888", "strokeDash": [3, 2], "strokeWidth": 0.8}, "encoding": {"y": {"datum": 0}}},
   {"data": {"name": "J_rug"}, "mark": {"type": "rule", "color": "black", "strokeWidth": 1}, "encoding": {"x": {"field": "r", "type": "quantitative"}, "y": {"datum": -4.26}, "y2": {"datum": -3.91}}},
   {"data": {"values": [{"panel": "J"}]}, "mark": {"type": "text", "align": "left", "baseline": "top", "dx": 4, "dy": 4, "fontSize": 12, "color": "black"}, "encoding": {"x": {"datum": 0.00066}, "y": {"datum": 5.41}, "text": {"field": "panel"}}}
  ]}
]
}
